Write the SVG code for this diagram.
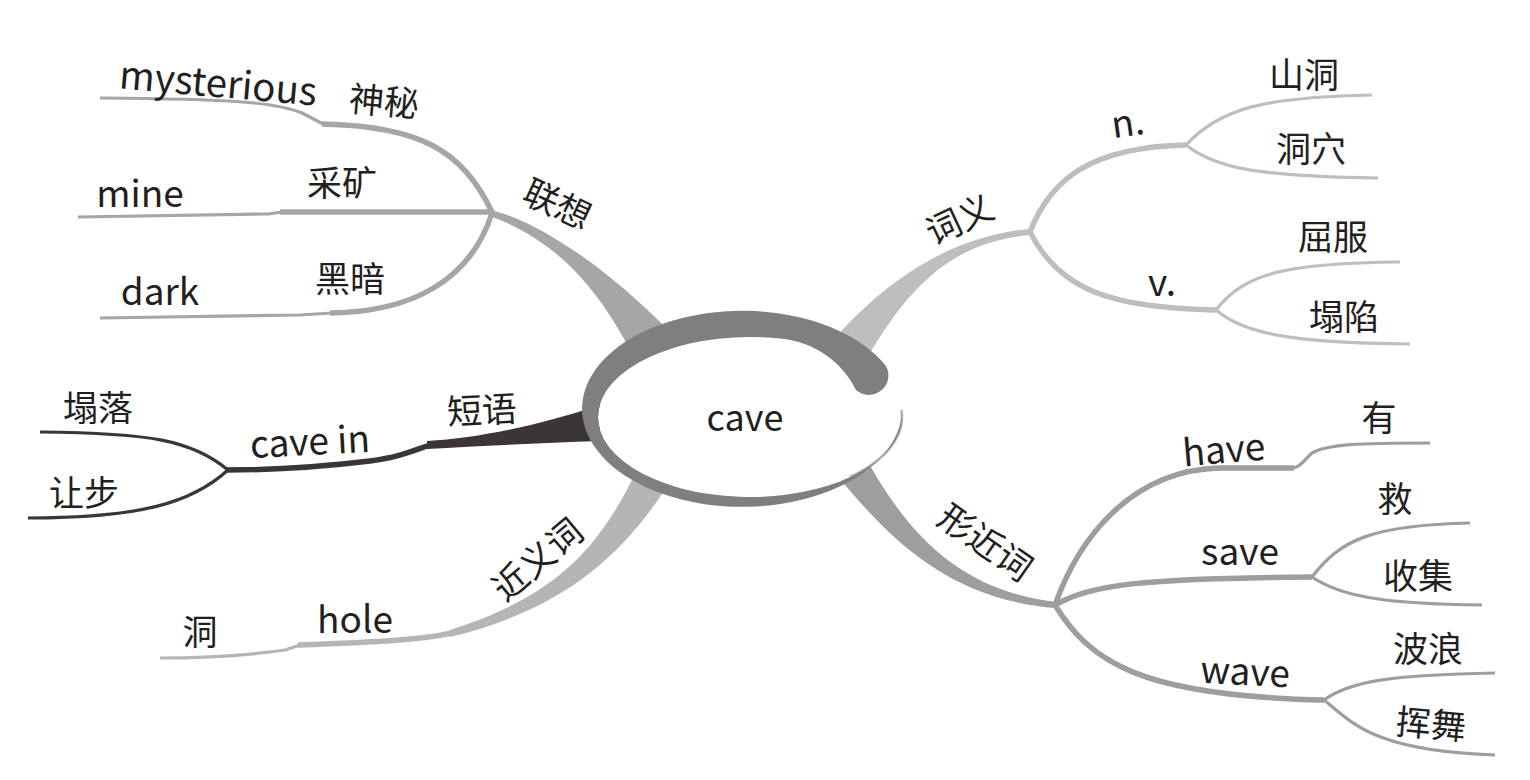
<svg xmlns="http://www.w3.org/2000/svg" width="1530" height="780" viewBox="0 0 1530 780">
<style>
text{font-family:"Noto Sans CJK SC","Noto Sans",sans-serif;font-size:35px;fill:#231f20;text-anchor:middle}
text.lt{font-size:37px}
.ln{fill:none;stroke-linecap:butt;stroke-linejoin:round}
.a{stroke:#a6a6a6}.b{stroke:#bebebe}.c{stroke:#3b3536}.d{stroke:#b5b5b5}.e{stroke:#9e9e9e}
.w5{stroke-width:5.5}.w3{stroke-width:3.2}
</style>
<rect width="1530" height="780" fill="#fff"/>
<g id="connectors">
  <!-- 联想 -->
  <path fill="#a6a6a6" d="M490 210 C530 218 600 260 672 334 L628 346 C595 285 555 240 490 216 Z"/>
  <path class="ln a w5" d="M492 212 C462 150 420 126 322 124"/>
  <path class="ln a w3" d="M323 124 L302 113 C275 102 230 99 100 98"/>
  <path class="ln a w5" d="M492 212 L280 212"/>
  <path class="ln a w3" d="M282 212 L268 214 L78 217"/>
  <path class="ln a w5" d="M492 213 C470 282 410 312 330 313"/>
  <path class="ln a w3" d="M332 313 L300 315 L100 318"/>
  <!-- 词义 -->
  <path fill="#bebebe" d="M832 342 C880 285 950 235 1030 229 L1030 235 C960 242 915 275 866 360 Z"/>
  <path class="ln b w5" d="M1030 232 C1050 180 1090 147 1186 145"/>
  <path class="ln b w3" d="M1186 145 C1220 108 1265 97 1372 95"/>
  <path class="ln b w3" d="M1186 145 C1215 168 1255 176 1378 178"/>
  <path class="ln b w5" d="M1030 232 C1060 290 1110 308 1216 310"/>
  <path class="ln b w3" d="M1216 310 C1245 272 1290 263 1400 262"/>
  <path class="ln b w3" d="M1216 310 C1242 332 1285 343 1410 344"/>
  <!-- 短语 -->
  <path fill="#3b3536" d="M427 441 C480 438 540 425 600 405 L600 441 C540 443 480 446 427 449 Z"/>
  <path class="ln c w5" d="M430 445 C412 451 400 457 370 461 C320 467 270 470 226 470"/>
  <path class="ln c w3" d="M228 470 C192 440 150 433 40 432"/>
  <path class="ln c w3" d="M228 470 C192 503 140 518 28 518"/>
  <!-- 近义词 -->
  <path fill="#b5b5b5" d="M636 472 C600 545 560 595 450 630 L450 637 C560 610 620 560 670 482 Z"/>
  <path class="ln d w5" d="M452 633 C420 640 380 642 298 645"/>
  <path class="ln d w3" d="M300 645 L285 650 C250 655 200 658 160 658"/>
  <!-- 形近词 -->
  <path fill="#9e9e9e" d="M864 455 C900 520 950 590 1056 602 L1056 608 C950 600 890 540 836 474 Z"/>
  <path class="ln e w5" d="M1055 605 C1078 540 1130 470 1220 468 L1294 468"/>
  <path class="ln e w3" d="M1294 468 C1302 466 1306 458 1312 453 C1328 444 1360 443 1430 443"/>
  <path class="ln e w5" d="M1055 605 C1090 585 1140 578 1312 577"/>
  <path class="ln e w3" d="M1312 577 C1340 540 1372 525 1470 523"/>
  <path class="ln e w3" d="M1312 577 C1340 596 1382 604 1482 605"/>
  <path class="ln e w5" d="M1055 605 C1090 662 1140 696 1324 700"/>
  <path class="ln e w3" d="M1324 700 C1350 681 1392 675 1495 673"/>
  <path class="ln e w3" d="M1324 700 C1352 722 1372 751 1495 755"/>
</g>
<g id="center">
  <ellipse cx="750" cy="417" rx="152" ry="80" fill="#fff"/>
  <path d="M901.5 410 A152 80 0 0 1 850 477" fill="none" stroke="#b3b3b3" stroke-width="2.5"/>
  <path fill="#7f7f7f" d="M886 366 A160 98 0 1 0 902 412 L902 417 A152 80 0 1 1 780 338.6 C815 342 842 362 856 390 A19.5 19.5 0 0 0 886 366 Z"/>
  <text class="lt" x="745" y="431" style="font-size:36px">cave</text>
</g>
<g id="n-lianxiang"><text x="557" y="217" transform="rotate(25 557 205)">联想</text></g>
<g id="n-mysterious"><text class="lt" x="217" y="97" transform="rotate(5 217 97)" style="font-size:38.5px">mysterious</text></g>
<g id="n-shenmi"><text x="384" y="114" transform="rotate(5 384 102)">神秘</text></g>
<g id="n-mine"><text class="lt" x="140" y="207">mine</text></g>
<g id="n-caikuang"><text x="342" y="196">采矿</text></g>
<g id="n-dark"><text class="lt" x="160" y="305">dark</text></g>
<g id="n-heian"><text x="350" y="292">黑暗</text></g>
<g id="n-ciyi"><text x="960" y="232" transform="rotate(-25 960 220)">词义</text></g>
<g id="n-n"><text class="lt" x="1128" y="136" transform="rotate(-8 1128 125)">n.</text></g>
<g id="n-shandong"><text x="1304" y="88">山洞</text></g>
<g id="n-dongxue"><text x="1311" y="162">洞穴</text></g>
<g id="n-v"><text class="lt" x="1162" y="296">v.</text></g>
<g id="n-qufu"><text x="1333" y="250">屈服</text></g>
<g id="n-taxian"><text x="1344" y="330">塌陷</text></g>
<g id="n-duanyu"><text x="482" y="423" transform="rotate(-3 482 411)">短语</text></g>
<g id="n-cavein"><text class="lt" x="310" y="455" transform="rotate(-3 310 443)">cave in</text></g>
<g id="n-taluo"><text x="98" y="421">塌落</text></g>
<g id="n-rangbu"><text x="84" y="506">让步</text></g>
<g id="n-jinyici"><text x="538" y="572" transform="rotate(-40 538 560)">近义词</text></g>
<g id="n-hole"><text class="lt" x="355" y="633">hole</text></g>
<g id="n-dong"><text x="200" y="645">洞</text></g>
<g id="n-xingjinci"><text x="985" y="555" transform="rotate(35 985 543)">形近词</text></g>
<g id="n-have"><text class="lt" x="1224" y="463" transform="rotate(-5 1224 452)">have</text></g>
<g id="n-you"><text x="1379" y="431">有</text></g>
<g id="n-save"><text class="lt" x="1240" y="565">save</text></g>
<g id="n-jiu"><text x="1395" y="512">救</text></g>
<g id="n-shouji"><text x="1418" y="589">收集</text></g>
<g id="n-wave"><text class="lt" x="1245" y="685" transform="rotate(3 1245 675)">wave</text></g>
<g id="n-bolang"><text x="1428" y="662">波浪</text></g>
<g id="n-huiwu"><text x="1431" y="737" transform="rotate(5 1431 725)">挥舞</text></g>
</svg>
